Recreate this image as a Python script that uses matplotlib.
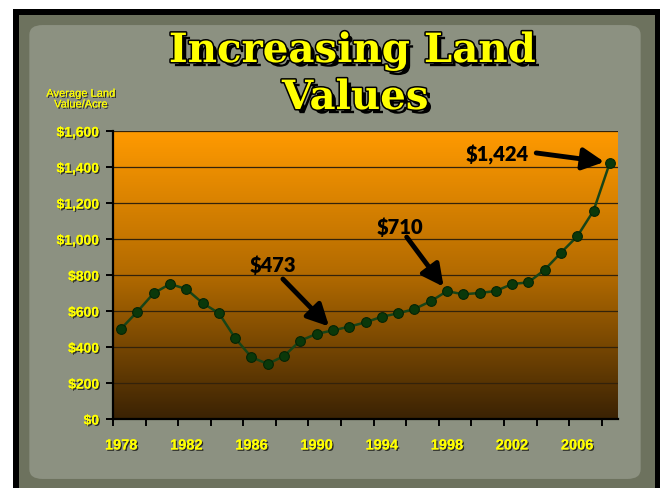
import numpy as np
import matplotlib
matplotlib.use("Agg")
import matplotlib.pyplot as plt
import matplotlib.patheffects as pe
from matplotlib.colors import LinearSegmentedColormap
from matplotlib.patches import Rectangle, FancyBboxPatch
from matplotlib.ticker import FuncFormatter

# =========================
# DATA
# =========================
years = list(range(1978, 2009))
land_values = [502, 597, 699, 750, 722, 644, 588, 449, 343, 306,
               350, 435, 473, 492, 513, 537, 568, 587, 611, 654,
               710, 693, 700, 711, 750, 759, 829, 924, 1015, 1157, 1424]
label_years = years[::4]
callouts = [(13, "$473"), (20, "$710"), (30, "$1,424")]

W, H = 665, 489
YELLOW = "#ffff00"
narrow = ["Liberation Sans", "DejaVu Sans"]

fig = plt.figure(figsize=(W / 100, H / 100), dpi=100)
fig.patch.set_facecolor("white")

def px_rect(x0, y0, x1, y1, **kw):
    # rectangle given in image pixels (y from top)
    return Rectangle((x0 / W, 1 - y1 / H), (x1 - x0) / W, (y1 - y0) / H,
                     transform=fig.transFigure, **kw)

# black frame + paper background
fig.patches.append(px_rect(13, 10, 660, 489, facecolor="black", lw=0, zorder=-10))
fig.patches.append(px_rect(19, 16, 655, 489, facecolor="#6d725e", lw=0, zorder=-9))
fig.patches.append(FancyBboxPatch((32 / W, 1 - 478 / H), 606 / W, 450 / H,
                                  boxstyle="round,pad=0.004,rounding_size=0.02",
                                  transform=fig.transFigure, facecolor="#8c9181",
                                  lw=0, zorder=-8))

# =========================
# AXES
# =========================
ax = fig.add_axes([113 / W, 69 / H, 505 / W, 288 / H], zorder=1)
x = np.arange(len(years))
ax.set_xlim(-0.5, len(years) - 0.5)
ax.set_ylim(0, 1600)

grad = np.linspace(0, 1, 256).reshape(-1, 1)
cmap = LinearSegmentedColormap.from_list("bg", ["#3a2204", "#b26a00", "#ff9a00"])
ax.imshow(grad, extent=[-0.5, len(years) - 0.5, 0, 1600], origin="lower",
          aspect="auto", cmap=cmap, zorder=0)
ax.set_axisbelow(True)
ax.yaxis.grid(True, color="#33220a", lw=0.9)

ax.plot(x, land_values, color="#174417", lw=1.8, marker="o", markersize=7,
        markerfacecolor="#0a380a", markeredgecolor="#052405", markeredgewidth=0.8,
        zorder=3)

for s in ["top", "right"]:
    ax.spines[s].set_visible(False)
for s in ["left", "bottom"]:
    ax.spines[s].set_color("black")
    ax.spines[s].set_linewidth(1.6)

shadow = [pe.withSimplePatchShadow(offset=(1, -1), shadow_rgbFace="black", alpha=0.7),
          pe.Normal()]

ax.set_yticks(np.arange(0, 1601, 200))
ax.yaxis.set_major_formatter(FuncFormatter(lambda v, p: f"${v:,.0f}"))
ax.tick_params(axis="y", length=5, width=1.4, color="black", pad=5)
for t in ax.get_yticklabels():
    t.set_family(narrow)
    t.set_fontweight("bold")
    t.set_fontsize(10)
    t.set_color(YELLOW)
    t.set_path_effects(shadow)

ax.set_xticks(np.arange(-0.5, len(years) - 1, 2))
ax.set_xticklabels([])
ax.tick_params(axis="x", which="major", length=5, width=1.4, color="black")
ax.set_xticks([years.index(y) for y in label_years], minor=True)
ax.set_xticklabels([str(y) for y in label_years], minor=True)
ax.tick_params(axis="x", which="minor", length=0, pad=14)
for t in ax.get_xticklabels(minor=True):
    t.set_family(narrow)
    t.set_fontweight("bold")
    t.set_fontsize(10.5)
    t.set_color(YELLOW)
    t.set_path_effects(shadow)

# =========================
# CALLOUTS
# =========================
offsets = {13: ((-36, 37), (-43, 48)),
           20: ((-29, 39), (-34, 47)),
           30: ((-53, 7), (-81, 6.5))}
for i, label in callouts:
    tail, txt = offsets[i]
    ax.annotate("", xy=(x[i], land_values[i]), xytext=tail, textcoords="offset points",
                arrowprops=dict(arrowstyle="-|>,head_length=0.65,head_width=0.33",
                                color="black", lw=3.5, mutation_scale=20,
                                shrinkA=0, shrinkB=4), zorder=4)
    ax.annotate(label, xy=(x[i], land_values[i]), xytext=txt, textcoords="offset points",
                ha="center", va="center", fontsize=14.5, fontweight="heavy",
                family="Lato", color="black", zorder=4)

# =========================
# TITLES
# =========================
title_fx = [pe.withSimplePatchShadow(offset=(3, -3), shadow_rgbFace="black", alpha=1),
            pe.withStroke(linewidth=2.2, foreground="black")]
fig.text(352 / W, 1 - 63 / H, "Increasing Land", ha="center", va="baseline",
         fontsize=29, fontweight="heavy", family="DejaVu Serif", color=YELLOW,
         path_effects=title_fx)
fig.text(355 / W, 1 - 110 / H, "Values", ha="center", va="baseline",
         fontsize=29, fontweight="heavy", family="DejaVu Serif", color=YELLOW,
         path_effects=title_fx)

fig.text(81 / W, 1 - 100 / H, "Average Land\nValue/Acre", ha="center", va="center",
         fontsize=8, family=narrow, color=YELLOW, linespacing=1.1,
         path_effects=shadow)

fig.savefig("out.png", dpi=100)
